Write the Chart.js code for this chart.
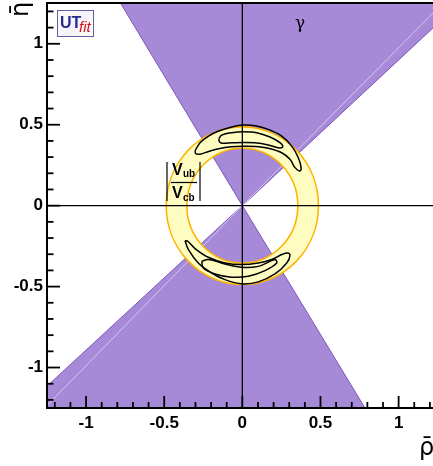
<!DOCTYPE html>
<html>
<head>
<meta charset="utf-8">
<script src="https://cdn.jsdelivr.net/npm/chart.js@4/dist/chart.umd.min.js"></script>
<style>
html,body{margin:0;padding:0;background:#fff;overflow:hidden;}
canvas{display:block;}
</style>
</head>
<body>
<canvas id="c" width="433" height="466"></canvas>
<script>
// ---- axis ranges (rho-bar, eta-bar) ----
const xRange = [-1.25, 1.22];
const yRange = [-1.25, 1.252];
const tickStep = 0.1;
const majorStep = 0.5;

// ---- gamma constraint: wedge edges through the origin ----
const gammaUpperEdge = [{x:-0.78,y:1.252},{x:0,y:0},{x:1.22,y:1.098}];
const gammaLowerEdge = [{x:-1.25,y:-1.115},{x:0,y:0},{x:0.785,y:-1.25}];
const gammaCentralUpper = [{x:0,y:0},{x:1.22,y:1.19}];
const gammaCentralLower = [{x:-1.25,y:-1.235},{x:0,y:0}];

// ---- |Vub/Vcb| ring radii (inner, outer) ----
const ringRadii = [0.355, 0.487];

// ---- fit contours (95% and 68%) ----
const upper95 = [
 [-0.303,0.338],[-0.271,0.389],[-0.216,0.430],[-0.152,0.461],[-0.068,0.486],[0.006,0.498],
 [0.081,0.494],[0.166,0.471],[0.252,0.430],[0.316,0.368],[0.358,0.296],[0.376,0.235],[0.369,0.214],
 [0.337,0.235],[0.305,0.286],[0.252,0.327],[0.166,0.355],[0.081,0.366],[0.006,0.367],
 [-0.068,0.364],[-0.152,0.352],[-0.216,0.335],[-0.271,0.318],[-0.298,0.321],[-0.303,0.338]
];
const upper68 = [
 [-0.149,0.415],[-0.132,0.436],[-0.068,0.451],[0.006,0.457],[0.092,0.451],[0.177,0.424],
 [0.241,0.389],[0.258,0.362],[0.230,0.358],[0.166,0.375],[0.081,0.388],[0.006,0.390],
 [-0.068,0.388],[-0.132,0.386],[-0.149,0.399],[-0.149,0.415]
];
const lower95 = [
 [-0.367,-0.216],[-0.345,-0.272],[-0.282,-0.354],[-0.196,-0.416],[-0.111,-0.457],[-0.004,-0.483],
 [0.102,-0.471],[0.209,-0.422],[0.284,-0.354],[0.305,-0.307],[0.290,-0.292],
 [0.252,-0.302],[0.188,-0.333],[0.102,-0.354],[-0.004,-0.364],[-0.111,-0.354],
 [-0.218,-0.319],[-0.303,-0.265],[-0.349,-0.220],[-0.367,-0.216]
];
const lower68 = [
 [-0.260,-0.344],[-0.218,-0.333],[-0.111,-0.360],[-0.004,-0.381],[0.102,-0.375],[0.209,-0.333],
 [0.220,-0.354],[0.145,-0.401],[0.038,-0.436],[-0.068,-0.442],[-0.175,-0.422],[-0.250,-0.385],[-0.260,-0.344]
];

// ---- labels ----
const xTitle = 'ρ̄';
const yTitle = 'η̄';
const gammaLabel = 'γ';

const PURPLE = '#a68ad8';
const PURPLE_EDGE = '#7d55bd';
const RING_FILL = '#fffcc2';
const RING_EDGE = '#ffb300';

const pts = arr => arr.map(p => ({x:p[0], y:p[1]}));
const isMajor = v => Math.abs(v/majorStep - Math.round(v/majorStep)) < 1e-6;

const RING_AFTER_INDEX = 3;

const overlay = {
  id: 'overlay',
  afterDatasetDraw(chart, args) {
    if (args.index !== RING_AFTER_INDEX) return;
    const {ctx, chartArea:a, scales:{x, y}} = chart;
    const cx = x.getPixelForValue(0), cy = y.getPixelForValue(0);
    const rx = r => x.getPixelForValue(r) - cx;
    const ry = r => cy - y.getPixelForValue(r);
    const [ri, ro] = ringRadii;
    ctx.save();
    ctx.beginPath(); ctx.rect(a.left, a.top, a.right - a.left, a.bottom - a.top); ctx.clip();
    ctx.beginPath();
    ctx.ellipse(cx, cy, rx(ro), ry(ro), 0, 0, 2*Math.PI);
    ctx.moveTo(cx + rx(ri), cy);
    ctx.ellipse(cx, cy, rx(ri), ry(ri), 0, 0, 2*Math.PI);
    ctx.fillStyle = RING_FILL;
    ctx.fill('evenodd');
    ctx.strokeStyle = RING_EDGE; ctx.lineWidth = 1.6;
    ctx.beginPath(); ctx.ellipse(cx, cy, rx(ro), ry(ro), 0, 0, 2*Math.PI); ctx.stroke();
    ctx.beginPath(); ctx.ellipse(cx, cy, rx(ri), ry(ri), 0, 0, 2*Math.PI); ctx.stroke();
    ctx.restore();
  },
  afterDatasetsDraw(chart) {
    const {ctx, chartArea:a, scales:{x, y}} = chart;
    const x0 = x.getPixelForValue(0), y0 = y.getPixelForValue(0);
    ctx.save();
    ctx.strokeStyle = '#000'; ctx.lineWidth = 1.3;
    ctx.beginPath(); ctx.moveTo(x0, a.top); ctx.lineTo(x0, a.bottom); ctx.stroke();
    ctx.beginPath(); ctx.moveTo(a.left, y0); ctx.lineTo(a.right, y0); ctx.stroke();
    ctx.restore();
  },
  afterDraw(chart) {
    const {ctx, chartArea:a, scales:{x, y}} = chart;
    ctx.save();
    // frame
    ctx.strokeStyle = '#000'; ctx.lineWidth = 2;
    ctx.beginPath();
    ctx.moveTo(a.right + 2, a.top); ctx.lineTo(a.left, a.top); ctx.lineTo(a.left, a.bottom); ctx.lineTo(a.right + 2, a.bottom);
    ctx.stroke();
    // inward ticks
    ctx.lineWidth = 1.8;
    x.ticks.forEach(t => {
      const px = x.getPixelForValue(t.value);
      const len = isMajor(t.value) ? 12 : 6;
      ctx.beginPath(); ctx.moveTo(px, a.bottom); ctx.lineTo(px, a.bottom - len); ctx.stroke();
    });
    y.ticks.forEach(t => {
      const py = y.getPixelForValue(t.value);
      const len = isMajor(t.value) ? 13 : 6.5;
      ctx.beginPath(); ctx.moveTo(a.left, py); ctx.lineTo(a.left + len, py); ctx.stroke();
    });
    // axis titles
    ctx.fillStyle = '#000';
    ctx.font = '24px "DejaVu Sans"';
    ctx.textAlign = 'left'; ctx.textBaseline = 'alphabetic';
    ctx.fillText(xTitle, 419, 455);
    ctx.save();
    ctx.translate(28, 17);
    ctx.rotate(-Math.PI/2);
    ctx.textAlign = 'left';
    ctx.fillText(yTitle, 0, 0);
    ctx.restore();
    // gamma label
    ctx.font = '17px "DejaVu Serif"';
    ctx.textAlign = 'center';
    ctx.fillText(gammaLabel, 300, 28);
    // |Vub/Vcb| label
    ctx.lineWidth = 1.2;
    ctx.beginPath(); ctx.moveTo(167, 162); ctx.lineTo(167, 201); ctx.stroke();
    ctx.beginPath(); ctx.moveTo(200, 162); ctx.lineTo(200, 201); ctx.stroke();
    ctx.beginPath(); ctx.moveTo(171, 182.5); ctx.lineTo(197, 182.5); ctx.stroke();
    ctx.textAlign = 'left';
    ctx.font = 'bold 16px "Liberation Sans"';
    ctx.fillText('V', 172, 175);
    ctx.fillText('V', 172, 198);
    ctx.font = 'bold 10px "Liberation Sans"';
    ctx.fillText('ub', 183, 177);
    ctx.fillText('cb', 183, 201);
    // UTfit logo
    const g = ctx.createLinearGradient(57, 10, 94, 36);
    g.addColorStop(0, '#ffffff'); g.addColorStop(0.5, '#f4f0fb'); g.addColorStop(1, '#fffdf4');
    ctx.fillStyle = g;
    ctx.fillRect(57.5, 10.5, 36, 26);
    ctx.strokeStyle = '#5b5fa8'; ctx.lineWidth = 1;
    ctx.strokeRect(57.5, 10.5, 36, 26);
    ctx.fillStyle = '#262a8c';
    ctx.font = 'bold 16px "Liberation Sans"';
    ctx.fillText('UT', 60, 28);
    ctx.fillStyle = '#d0141a';
    ctx.font = 'italic 15px "Liberation Sans"';
    ctx.fillText('fit', 79, 32);
    ctx.restore();
  }
};

const lineDs = (data, extra) => Object.assign({
  data, showLine: true, pointRadius: 0, pointHoverRadius: 0, fill: false, tension: 0
}, extra);

const tickLabel = v => isMajor(v) ? String(Math.round(v*10)/10) : '';

new Chart(document.getElementById('c'), {
  type: 'scatter',
  data: {
    datasets: [
      lineDs(gammaUpperEdge, {order: 10, fill: 'end', backgroundColor: PURPLE, borderColor: PURPLE_EDGE, borderWidth: 1}),
      lineDs(gammaLowerEdge, {order: 9, fill: 'start', backgroundColor: PURPLE, borderColor: PURPLE_EDGE, borderWidth: 1}),
      lineDs(gammaCentralUpper, {order: 8, borderColor: 'rgba(235,225,250,0.7)', borderWidth: 1}),
      lineDs(gammaCentralLower, {order: 7, borderColor: 'rgba(235,225,250,0.7)', borderWidth: 1}),
      lineDs(pts(upper95), {order: 4, borderColor: '#000', borderWidth: 1.5, tension: 0.35}),
      lineDs(pts(upper68), {order: 3, borderColor: '#000', borderWidth: 1.5, tension: 0.35}),
      lineDs(pts(lower95), {order: 2, borderColor: '#000', borderWidth: 1.5, tension: 0.35}),
      lineDs(pts(lower68), {order: 1, borderColor: '#000', borderWidth: 1.5, tension: 0.35})
    ]
  },
  options: {
    responsive: false,
    animation: false,
    devicePixelRatio: 1,
    layout: {padding: {left: 0, top: 3, right: 0, bottom: 0}},
    plugins: {legend: {display: false}, tooltip: {enabled: false}},
    scales: {
      x: {
        type: 'linear', min: xRange[0], max: xRange[1],
        grid: {display: false, drawTicks: false, tickLength: 0},
        border: {display: false},
        afterFit(s) { s.height = 58; s.paddingLeft = 0; s.paddingRight = 0; },
        ticks: {
          stepSize: tickStep, includeBounds: false, autoSkip: false, maxRotation: 0,
          padding: 5, color: '#000',
          font: {family: '"Liberation Sans"', weight: 'bold', size: 17},
          callback: tickLabel
        }
      },
      y: {
        type: 'linear', min: yRange[0], max: yRange[1],
        grid: {display: false, drawTicks: false, tickLength: 0},
        border: {display: false},
        afterFit(s) { s.width = 47; s.paddingTop = 0; s.paddingBottom = 0; },
        ticks: {
          stepSize: tickStep, includeBounds: false, autoSkip: false,
          padding: 4, color: '#000',
          font: {family: '"Liberation Sans"', weight: 'bold', size: 17},
          callback: tickLabel
        }
      }
    }
  },
  plugins: [overlay]
});
</script>
</body>
</html>
